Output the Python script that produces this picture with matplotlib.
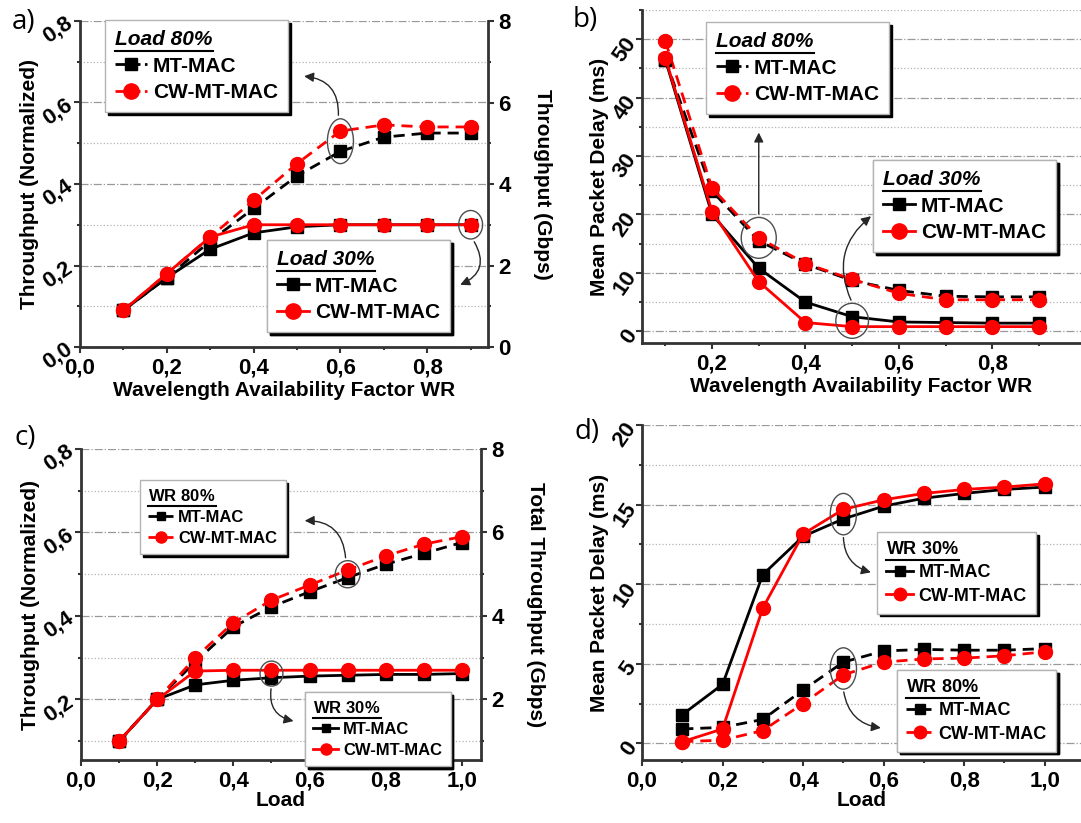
import matplotlib
matplotlib.use("Agg")
import matplotlib.pyplot as plt
from matplotlib.lines import Line2D
from matplotlib.patches import Ellipse
from matplotlib.ticker import MultipleLocator, FuncFormatter

plt.rcParams['font.family'] = ['Liberation Sans', 'DejaVu Sans']
plt.rcParams['font.weight'] = 'bold'
plt.rcParams['axes.labelweight'] = 'bold'
plt.rcParams['mathtext.fontset'] = 'custom'
plt.rcParams['mathtext.bf'] = 'Liberation Sans:bold'
plt.rcParams['mathtext.it'] = 'Liberation Sans:italic:bold'
plt.rcParams['mathtext.rm'] = 'Liberation Sans:bold'

# --- datos ---
wr = [0.1, 0.2, 0.3, 0.4, 0.5, 0.6, 0.7, 0.8, 0.9]
a_mt_30 = [0.09, 0.17, 0.24, 0.28, 0.295, 0.30, 0.30, 0.30, 0.30]
a_cw_30 = [0.09, 0.18, 0.27, 0.30, 0.30, 0.30, 0.30, 0.30, 0.30]
a_mt_80 = [0.09, 0.17, 0.26, 0.34, 0.42, 0.48, 0.515, 0.525, 0.525]
a_cw_80 = [0.09, 0.18, 0.27, 0.36, 0.45, 0.53, 0.545, 0.54, 0.54]

b_mt_30 = [46.5, 20.0, 10.8, 5.0, 2.5, 1.6, 1.5, 1.4, 1.4]
b_cw_30 = [46.8, 20.5, 8.5, 1.5, 0.8, 0.8, 0.8, 0.8, 0.8]
b_mt_80 = [46.5, 24.0, 15.5, 11.5, 8.7, 7.0, 6.0, 5.9, 5.9]
b_cw_80 = [49.7, 24.5, 16.0, 11.6, 8.9, 6.5, 5.4, 5.4, 5.4]

load = [0.1, 0.2, 0.3, 0.4, 0.5, 0.6, 0.7, 0.8, 0.9, 1.0]
c_mt_30 = [0.1, 0.2, 0.235, 0.246, 0.252, 0.256, 0.258, 0.26, 0.26, 0.262]
c_cw_30 = [0.1, 0.2, 0.268, 0.27, 0.27, 0.27, 0.27, 0.27, 0.27, 0.27]
c_mt_80 = [0.1, 0.2, 0.29, 0.374, 0.422, 0.458, 0.492, 0.524, 0.55, 0.576]
c_cw_80 = [0.1, 0.2, 0.30, 0.384, 0.438, 0.474, 0.51, 0.544, 0.572, 0.59]

d_mt_30 = [1.8, 3.7, 10.6, 13.0, 14.1, 14.9, 15.4, 15.7, 15.95, 16.1]
d_cw_30 = [0.1, 0.9, 8.5, 13.15, 14.7, 15.3, 15.7, 15.95, 16.1, 16.3]
d_mt_80 = [0.9, 1.0, 1.5, 3.35, 5.1, 5.8, 5.9, 5.85, 5.85, 5.95]
d_cw_80 = [0.1, 0.2, 0.8, 2.5, 4.3, 5.1, 5.3, 5.35, 5.5, 5.75]

W, H = 1081, 823
fig = plt.figure(figsize=(W / 100, H / 100), dpi=100)


def box(l, t, r, b):
    # caja en pixeles -> fraccion de figura
    return [l / W, 1 - b / H, (r - l) / W, (b - t) / H]


coma = FuncFormatter(lambda v, p: ('%.1f' % v).replace('.', ','))
entero = FuncFormatter(lambda v, p: '%d' % round(v))


def estilo(ax, ymaj, ymin, yfmt, rot=50):
    ax.xaxis.set_major_locator(MultipleLocator(0.2))
    ax.xaxis.set_minor_locator(MultipleLocator(0.1))
    ax.xaxis.set_major_formatter(coma)
    ax.yaxis.set_major_locator(MultipleLocator(ymaj))
    ax.yaxis.set_minor_locator(MultipleLocator(ymin))
    ax.yaxis.set_major_formatter(yfmt)
    ax.grid(True, axis='y', which='major', color='0.6', ls='-.', lw=0.9)
    ax.grid(True, axis='y', which='minor', color='0.7', ls=':', lw=0.9)
    for s in ['top', 'right']:
        ax.spines[s].set_visible(False)
    for s in ['left', 'bottom']:
        ax.spines[s].set_linewidth(2)
        ax.spines[s].set_color('0.2')
    ax.tick_params(which='major', length=4, width=1.5, labelsize=16, color='0.2')
    ax.tick_params(which='minor', length=2, width=1.5, color='0.2')
    ax.tick_params(axis='y', labelrotation=rot, pad=3)
    for lb in ax.get_yticklabels():
        lb.set_rotation_mode('anchor')
        lb.set_ha('right')
        lb.set_va('center')
    ax.set_axisbelow(True)


def eje_derecho(ax, lo, label):
    ax2 = ax.twinx()
    ax2.set_ylim(lo, 8)
    ax2.yaxis.set_major_locator(MultipleLocator(2))
    ax2.yaxis.set_minor_locator(MultipleLocator(1))
    ax2.yaxis.set_major_formatter(entero)
    for s in ['top', 'left', 'bottom']:
        ax2.spines[s].set_visible(False)
    ax2.spines['right'].set_linewidth(2)
    ax2.spines['right'].set_color('0.2')
    ax2.tick_params(which='major', length=4, width=1.5, labelsize=16, color='0.2')
    ax2.tick_params(which='minor', length=2, width=1.5, color='0.2')
    ax2.set_ylabel(label, fontsize=15, rotation=270, labelpad=30)
    return ax2


def curvas(ax, x, mt30, cw30, mt80, cw80):
    ax.plot(x, mt80, color='k', ls='--', dashes=(4, 2.5), lw=2, marker='s', ms=8, zorder=3)
    ax.plot(x, cw80, color='red', ls='--', dashes=(4, 2.5), lw=2, marker='o', ms=10, zorder=3)
    ax.plot(x, mt30, color='k', lw=2, marker='s', ms=8, zorder=4)
    ax.plot(x, cw30, color='red', lw=2, marker='o', ms=10, zorder=4)


leyendas = []


def leyenda(ax, title, dashed, pos, fs, ms, italic=False):
    ls = '--' if dashed else '-'
    h = [Line2D([], [], color='k', ls=ls, lw=2, marker='s', ms=ms * 0.8),
         Line2D([], [], color='red', ls=ls, lw=2, marker='o', ms=ms)]
    leg = ax.legend(h, ['MT-MAC', 'CW-MT-MAC'], title=title, loc='upper left',
                    bbox_to_anchor=(pos[0] / W, 1 - pos[1] / H), bbox_transform=fig.transFigure,
                    borderaxespad=0, frameon=True, fancybox=False, edgecolor='0.7', framealpha=1,
                    shadow={'color': 'k', 'alpha': 1}, fontsize=fs, title_fontsize=fs,
                    alignment='left', handlelength=1.5, handletextpad=0.3,
                    borderpad=0.5, labelspacing=0.35)
    leg.get_frame().set_linewidth(1)
    if italic:
        leg.get_title().set_fontstyle('italic')
    leg.set_zorder(10)
    ax.add_artist(leg)
    leyendas.append(leg)
    return leg


def flecha(ax, start, end, rad):
    ax.annotate('', xy=end, xytext=start,
                arrowprops=dict(arrowstyle='-|>', color='0.15', lw=1,
                                connectionstyle='arc3,rad=%s' % rad, mutation_scale=14),
                zorder=9)


def etiqueta(x, y, s):
    fig.text(x / W, 1 - y / H, s, fontsize=20, fontweight='normal', family='Open Sans', va='center')


# ---------- a) ----------
ax = fig.add_axes(box(80, 21, 488, 347))
curvas(ax, wr, a_mt_30, a_cw_30, a_mt_80, a_cw_80)
ax.set_xlim(0, 0.94)
ax.set_ylim(0, 0.8)
estilo(ax, 0.2, 0.1, coma, rot=35)
ax.set_ylabel('Throughput (Normalized)', fontsize=15, labelpad=0)
ax.set_xlabel('Wavelength Availability Factor WR', fontsize=15, labelpad=2)
eje_derecho(ax, 0, 'Throughput (Gbps)')
ax.add_patch(Ellipse((0.6, 0.505), 0.06, 0.11, fill=False, ec='0.3', lw=1, zorder=8))
ax.add_patch(Ellipse((0.9, 0.3), 0.055, 0.07, fill=False, ec='0.3', lw=1, zorder=8))
flecha(ax, (0.595, 0.562), (0.51, 0.665), 0.5)
flecha(ax, (0.905, 0.264), (0.87, 0.15), -0.6)
leyenda(ax, 'Load 80%', True, (105, 20), 15, 11, italic=True)
leyenda(ax, 'Load 30%', False, (267, 240), 15, 11, italic=True)
etiqueta(12, 22, 'a)')

# ---------- b) ----------
ax = fig.add_axes(box(642, 10, 1081, 343))
curvas(ax, wr, b_mt_30, b_cw_30, b_mt_80, b_cw_80)
ax.set_xlim(0.05, 0.99)
ax.set_ylim(-2, 55)
estilo(ax, 10, 5, entero, rot=55)
ax.set_xticks([0.2, 0.4, 0.6, 0.8])
ax.set_ylabel('Mean Packet Delay (ms)', fontsize=15, labelpad=0)
ax.set_xlabel('Wavelength Availability Factor WR', fontsize=15, labelpad=2)
ax.add_patch(Ellipse((0.3, 16), 0.075, 7, fill=False, ec='0.3', lw=1, zorder=8))
ax.add_patch(Ellipse((0.5, 1.8), 0.07, 6, fill=False, ec='0.3', lw=1, zorder=8))
flecha(ax, (0.3, 19.6), (0.3, 34.5), 0)
flecha(ax, (0.5, 4.9), (0.545, 20), -0.4)
leyenda(ax, 'Load 80%', True, (706, 22), 15, 11, italic=True)
leyenda(ax, 'Load 30%', False, (873, 160), 15, 11, italic=True)
etiqueta(573, 20, 'b)')

# ---------- c) ----------
ax = fig.add_axes(box(81, 449, 481, 760))
curvas(ax, load, c_mt_30, c_cw_30, c_mt_80, c_cw_80)
ax.set_xlim(0, 1.05)
ax.set_ylim(0.055, 0.8)
estilo(ax, 0.2, 0.1, coma, rot=35)
ax.set_yticks([0.2, 0.4, 0.6, 0.8])
ax.set_ylabel('Throughput (Normalized)', fontsize=15, labelpad=0)
ax.set_xlabel('Load', fontsize=15, labelpad=0)
eje_derecho(ax, 0.55, 'Total Throughput (Gbps)')
ax.add_patch(Ellipse((0.7, 0.5), 0.065, 0.065, fill=False, ec='0.3', lw=1, zorder=8))
ax.add_patch(Ellipse((0.5, 0.262), 0.06, 0.06, fill=False, ec='0.3', lw=1, zorder=8))
flecha(ax, (0.695, 0.533), (0.58, 0.628), 0.5)
flecha(ax, (0.5, 0.232), (0.565, 0.147), 0.5)
leyenda(ax, r'$\mathbf{WR}\ \mathit{80\%}$', True, (140, 480), 12, 8)
leyenda(ax, r'$\mathbf{WR}\ \mathit{30\%}$', False, (305, 692), 12, 8)
etiqueta(15, 438, 'c)')

# ---------- d) ----------
ax = fig.add_axes(box(642, 425, 1081, 760))
curvas(ax, load, d_mt_30, d_cw_30, d_mt_80, d_cw_80)
ax.set_xlim(0, 1.09)
ax.set_ylim(-1.05, 20)
estilo(ax, 5, 2.5, entero, rot=55)
ax.set_ylabel('Mean Packet Delay (ms)', fontsize=15, labelpad=0)
ax.set_xlabel('Load', fontsize=15, labelpad=0)
ax.add_patch(Ellipse((0.5, 14.4), 0.065, 2.6, fill=False, ec='0.3', lw=1, zorder=8))
ax.add_patch(Ellipse((0.5, 4.7), 0.065, 2.6, fill=False, ec='0.3', lw=1, zorder=8))
flecha(ax, (0.5, 13.1), (0.575, 10.7), 0.4)
flecha(ax, (0.5, 3.4), (0.6, 0.95), 0.4)
leyenda(ax, r'$\mathbf{WR}\ \mathit{30\%}$', False, (877, 532), 13, 9)
leyenda(ax, r'$\mathbf{WR}\ \mathit{80\%}$', True, (897, 670), 13, 9)
etiqueta(575, 432, 'd)')

# subrayado de los titulos de leyenda
fig.canvas.draw()
r = fig.canvas.get_renderer()
inv = fig.transFigure.inverted()
for leg in leyendas:
    bb = leg.get_title().get_window_extent(r)
    (x0, y0), (x1, _) = inv.transform([(bb.x0, bb.y0 - 1.5), (bb.x1, bb.y0)])
    fig.add_artist(Line2D([x0, x1], [y0, y0], color='k', lw=1.5, transform=fig.transFigure, zorder=20))

fig.savefig('out.png', dpi=100)
